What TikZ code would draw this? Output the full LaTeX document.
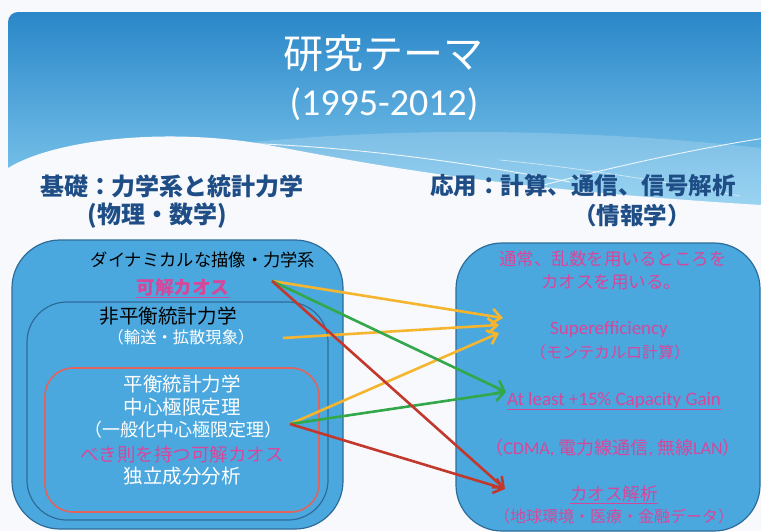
\documentclass[tikz,border=0pt]{standalone}
\usepackage{fontspec}
\setmainfont{Carlito}
\newfontfamily\jp{Noto Sans CJK JP}
\usetikzlibrary{arrows.meta}
\definecolor{bgc}{HTML}{F8F9FC}
\definecolor{hdtop}{HTML}{2A87C8}
\definecolor{hdbot}{HTML}{86CCF0}
\definecolor{boxfill}{HTML}{4BA8DE}
\definecolor{boxline}{HTML}{2D6C99}
\definecolor{redline}{HTML}{E0645C}
\definecolor{pinkc}{HTML}{D6479B}
\definecolor{headc}{HTML}{1F4E87}
\definecolor{ylw}{HTML}{F5B52E}
\definecolor{grn}{HTML}{32A84A}
\definecolor{rdd}{HTML}{C2382D}
\tikzset{
  jt/.style={font=\jp\fontsize{#1}{#1}\selectfont, inner sep=0pt},
  hd/.style={font=\jp\bfseries\fontsize{#1}{#1}\selectfont, inner sep=0pt, text=headc},
  lt/.style={font=\fontsize{#1}{#1}\selectfont, inner sep=0pt},
  boxst/.style={draw=boxline, fill=boxfill, line width=1.2pt, rectangle},
  arr/.style={line width=2.6pt, -{Straight Barb[length=9pt,width=15pt,line width=2.6pt]}},
  uline/.style={line width=1.1pt, draw=pinkc}
}
\begin{document}
\begin{tikzpicture}[x=1pt,y=-1pt]
\useasboundingbox (0,0) rectangle (761,531);
\fill[bgc] (0,0) rectangle (761,531);
% header panel
\begin{scope}
\clip[rounded corners=10pt] (8,12) rectangle (790,260);
\shade[top color=hdtop, bottom color=hdbot] (8,12) rectangle (761,210);
\fill[white, opacity=.18] (170,152) .. controls (350,126) and (560,126) .. (761,148) -- (761,215) -- (170,215) -- cycle;
\draw[white, line width=.9pt, opacity=.85] (232,143) .. controls (360,146) and (480,165) .. (570,182);
\draw[white, line width=.9pt, opacity=.85] (540,186) .. controls (620,165) and (700,148) .. (765,138);
\draw[white, line width=.7pt, opacity=.6] (500,160) .. controls (600,170) and (680,185) .. (740,196);
\fill[bgc] (8,168) .. controls (50,142) and (150,128) .. (250,142) .. controls (330,155) and (450,186) .. (761,205) -- (761,260) -- (8,260) -- cycle;
\end{scope}
% title
\node[jt=40, text=white] (t1) at (383,53) {研究テーマ};
\node[lt=38, text=white] (t2) at (384,104) {(1995-2012)};
% headings
\node[hd=24] (h1) at (172,186) {基礎：力学系と統計力学};
\node[hd=24] (h2) at (157,216) {(物理・数学)};
\node[hd=23.5] (h3) at (583,186) {応用：計算、通信、信号解析};
\node[hd=23.5] (h4) at (632,216) {（情報学）};
% boxes
\node[boxst, minimum width=331pt, minimum height=289pt, rounded corners=48pt] (L) at (177.5,384.5) {};
\node[boxst, minimum width=301pt, minimum height=218pt, rounded corners=40pt] (M) at (177.5,411) {};
\node[draw=redline, fill=boxfill, line width=1.6pt, rectangle, minimum width=274pt, minimum height=144pt, rounded corners=28pt] (I) at (182,440) {};
\node[boxst, minimum width=304pt, minimum height=288pt, rounded corners=46pt] (R) at (608,387) {};
% left texts
\node[jt=17.3, text=black] (a1) at (203,260) {ダイナミカルな描像・力学系};
\node[jt=18.6, text=pinkc] (a2) at (183,287) {\bfseries 可解カオス};
\draw[uline] ([yshift=-1pt]a2.south west) -- ([yshift=-1pt]a2.south east);
\node[jt=19.6, text=black] (b1) at (168,316) {非平衡統計力学};
\node[jt=16.3, text=white] (b2) at (181,337) {（輸送・拡散現象）};
\node[jt=19.5, text=white] (c1) at (182,384) {平衡統計力学};
\node[jt=19.5, text=white] (c2) at (182,407) {中心極限定理};
\node[jt=18, text=white] (c3) at (183,430) {（一般化中心極限定理）};
\node[jt=18.5, text=pinkc] (c4) at (182,454) {べき則を持つ可解カオス};
\node[jt=19.5, text=white] (c5) at (182,476) {独立成分分析};
% right texts
\node[jt=17.5, text=pinkc] (r1) at (613,259) {通常、乱数を用いるところを};
\node[jt=17.5, text=pinkc] (r2) at (611,282) {カオスを用いる。};
\node[lt=19, text=pinkc] (r3) at (609,329) {Superefficiency};
\node[jt=16, text=pinkc] (r4) at (610,352) {（モンテカルロ計算）};
\node[lt=19, text=pinkc] (r5) at (614,400) {At least +15\% Capacity Gain};
\draw[uline] ([yshift=-1.5pt]r5.south west) -- ([yshift=-1.5pt]r5.south east);
\node[text=pinkc, inner sep=0pt, font=\fontsize{18}{18}\selectfont] (r6) at (613,448) {{\jp （}CDMA, {\jp 電力線通信}, {\jp 無線}LAN{\jp ）}};
\node[jt=17.6, text=pinkc] (r7) at (614,494) {カオス解析};
\draw[uline] ([yshift=-1pt]r7.south west) -- ([yshift=-1pt]r7.south east);
\node[jt=16, text=pinkc] (r8) at (614,516) {（地球環境・医療・金融データ）};
% arrow end points
\coordinate (sA) at (272,281);
\coordinate (sC) at (283,338);
\coordinate (sB) at (290,424);
\coordinate (y1) at (503,318);
\coordinate (y2) at (499,325);
\coordinate (y3) at (499,333);
\coordinate (gT) at (506,392);
\coordinate (rT) at (505,489);
% arrows
\draw[arr, ylw] (sA) -- (y1);
\draw[arr, ylw] (sC) -- (y2);
\draw[arr, ylw] (sB) -- (y3);
\draw[arr, grn] (sA) -- (gT);
\draw[arr, grn] (sB) -- (gT);
\draw[arr, rdd] (sA) -- (rT);
\draw[arr, rdd] (sB) -- (rT);
\end{tikzpicture}
\end{document}
